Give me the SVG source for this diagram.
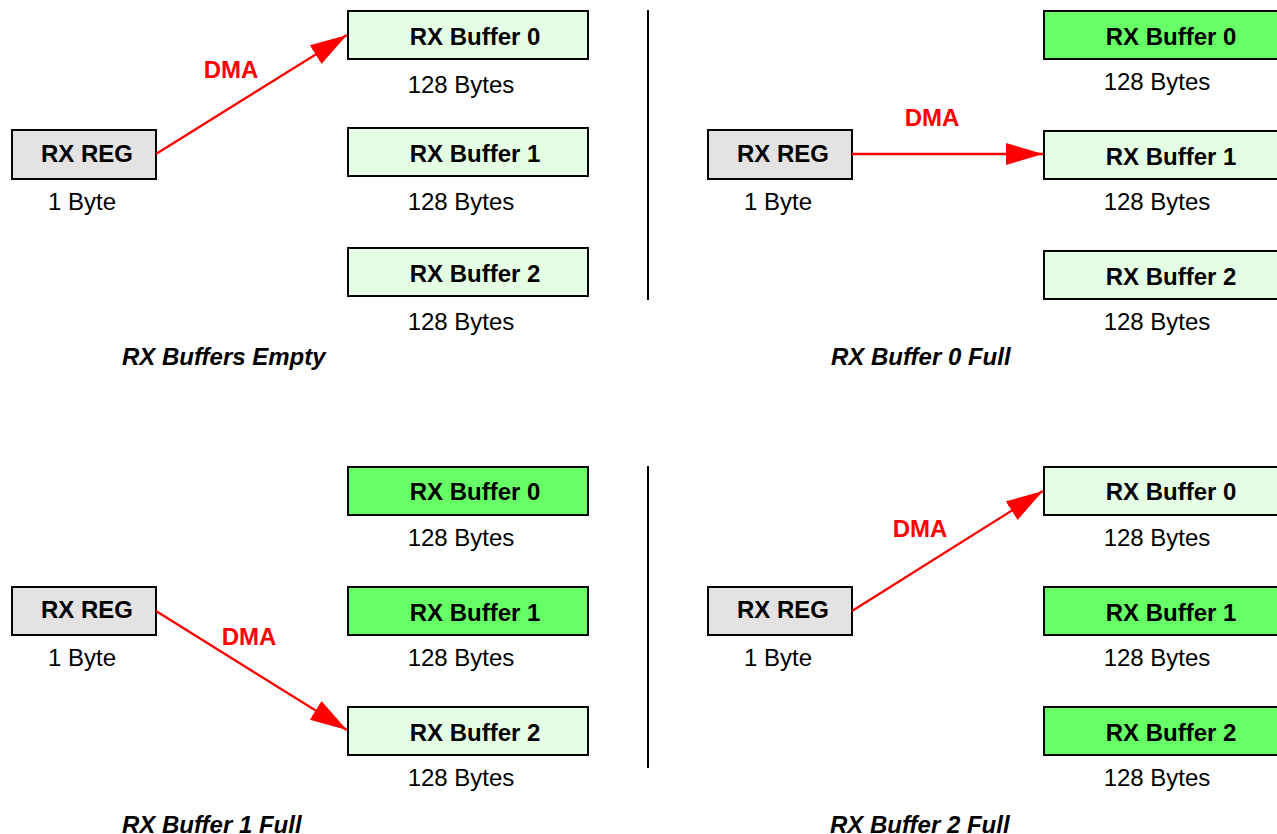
<svg xmlns="http://www.w3.org/2000/svg" width="1277" height="834" viewBox="0 0 1277 834">
  <style>
    text { font-family: "Liberation Sans", Arial, sans-serif; font-size: 24px; fill: #000; }
    .b { font-weight: bold; text-anchor: middle; }
    .n { text-anchor: middle; }
    .cap { font-weight: bold; font-style: italic; }
    .dma { font-weight: bold; text-anchor: middle; fill: #ff0000; }
    .reg { fill: #e3e3e3; stroke: #000; stroke-width: 2; }
    .empty { fill: #e5ffe5; stroke: #000; stroke-width: 2; }
    .full { fill: #66ff66; stroke: #000; stroke-width: 2; }
    .div { stroke: #000; stroke-width: 2; }
    .arrow { stroke: #ff0000; stroke-width: 2.3; fill: none; marker-end: url(#ah); }
  </style>
  <defs>
    <marker id="ah" markerUnits="userSpaceOnUse" markerWidth="40" markerHeight="24" refX="37" refY="11" orient="auto">
      <path d="M0,0 L37,11 L0,22 Z" fill="#ff0000"/>
    </marker>
  </defs>
  <rect width="1277" height="834" fill="#fff"/>

  <!-- panel dividers -->
  <line class="div" x1="648" y1="10" x2="648" y2="300"/>
  <line class="div" x1="648" y1="466" x2="648" y2="768"/>

  <!-- Panel 1: buffers empty -->
  <g id="p1-reg"><rect class="reg" x="12" y="130" width="144" height="49"/><text class="b" x="87" y="162">RX REG</text><text class="n" x="82" y="210">1 Byte</text></g>
  <g id="p1-buf0"><rect class="empty" x="348" y="11" width="240" height="48"/><text class="b" x="475" y="45">RX Buffer 0</text><text class="n" x="461" y="93">128 Bytes</text></g>
  <g id="p1-buf1"><rect class="empty" x="348" y="128" width="240" height="48"/><text class="b" x="475" y="162">RX Buffer 1</text><text class="n" x="461" y="210">128 Bytes</text></g>
  <g id="p1-buf2"><rect class="empty" x="348" y="248" width="240" height="48"/><text class="b" x="475" y="282">RX Buffer 2</text><text class="n" x="461" y="330">128 Bytes</text></g>
  <text class="cap" x="122" y="365">RX Buffers Empty</text>

  <!-- Panel 2: buffer 0 full -->
  <g id="p2-reg"><rect class="reg" x="708" y="130" width="144" height="49"/><text class="b" x="783" y="162">RX REG</text><text class="n" x="778" y="210">1 Byte</text></g>
  <g id="p2-buf0"><rect class="full" x="1044" y="11" width="240" height="48"/><text class="b" x="1171" y="45">RX Buffer 0</text><text class="n" x="1157" y="90">128 Bytes</text></g>
  <g id="p2-buf1"><rect class="empty" x="1044" y="131" width="240" height="48"/><text class="b" x="1171" y="165">RX Buffer 1</text><text class="n" x="1157" y="210">128 Bytes</text></g>
  <g id="p2-buf2"><rect class="empty" x="1044" y="251" width="240" height="48"/><text class="b" x="1171" y="285">RX Buffer 2</text><text class="n" x="1157" y="330">128 Bytes</text></g>
  <text class="cap" x="831" y="365">RX Buffer 0 Full</text>

  <!-- Panel 3: buffer 1 full -->
  <g id="p3-reg"><rect class="reg" x="12" y="587" width="144" height="48"/><text class="b" x="87" y="618">RX REG</text><text class="n" x="82" y="666">1 Byte</text></g>
  <g id="p3-buf0"><rect class="full" x="348" y="467" width="240" height="48"/><text class="b" x="475" y="500">RX Buffer 0</text><text class="n" x="461" y="546">128 Bytes</text></g>
  <g id="p3-buf1"><rect class="full" x="348" y="587" width="240" height="48"/><text class="b" x="475" y="621">RX Buffer 1</text><text class="n" x="461" y="666">128 Bytes</text></g>
  <g id="p3-buf2"><rect class="empty" x="348" y="707" width="240" height="48"/><text class="b" x="475" y="741">RX Buffer 2</text><text class="n" x="461" y="786">128 Bytes</text></g>
  <text class="cap" x="122" y="833">RX Buffer 1 Full</text>

  <!-- Panel 4: buffer 2 full -->
  <g id="p4-reg"><rect class="reg" x="708" y="587" width="144" height="48"/><text class="b" x="783" y="618">RX REG</text><text class="n" x="778" y="666">1 Byte</text></g>
  <g id="p4-buf0"><rect class="empty" x="1044" y="467" width="240" height="48"/><text class="b" x="1171" y="500">RX Buffer 0</text><text class="n" x="1157" y="546">128 Bytes</text></g>
  <g id="p4-buf1"><rect class="full" x="1044" y="587" width="240" height="48"/><text class="b" x="1171" y="621">RX Buffer 1</text><text class="n" x="1157" y="666">128 Bytes</text></g>
  <g id="p4-buf2"><rect class="full" x="1044" y="707" width="240" height="48"/><text class="b" x="1171" y="741">RX Buffer 2</text><text class="n" x="1157" y="786">128 Bytes</text></g>
  <text class="cap" x="830" y="833">RX Buffer 2 Full</text>

  <!-- DMA transfers -->
  <g id="connectors">
    <line class="arrow" x1="156" y1="154" x2="347" y2="35"/>
    <text class="dma" x="231" y="78">DMA</text>
    <line class="arrow" x1="852" y1="154" x2="1043" y2="154"/>
    <text class="dma" x="932" y="126">DMA</text>
    <line class="arrow" x1="156" y1="611" x2="347" y2="730"/>
    <text class="dma" x="249" y="645">DMA</text>
    <line class="arrow" x1="852" y1="611" x2="1043" y2="491"/>
    <text class="dma" x="920" y="537">DMA</text>
  </g>
</svg>
